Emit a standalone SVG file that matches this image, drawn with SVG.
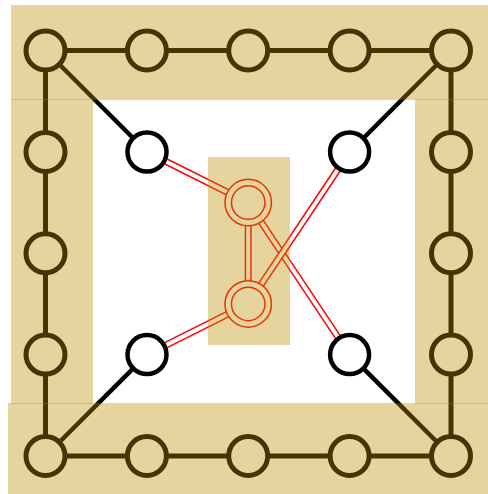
<svg xmlns="http://www.w3.org/2000/svg" width="488" height="494" viewBox="0 0 488 494">
<style>
.ring{stroke:#000;stroke-width:5;fill:none}
.diag{stroke:#000;stroke-width:4.5;fill:none}
.dbl-o{stroke:#ff0000;stroke-width:7;fill:none}
.dbl-i{stroke:#fff;stroke-width:4;fill:none}
.n{fill:#fff;stroke:#000;stroke-width:5}
.m{fill:#fff;stroke:#000;stroke-width:4.5}
.c-o{fill:#fff;stroke:#ff0000;stroke-width:8}
.c-i{fill:none;stroke:#fff;stroke-width:5}
.band{fill:#bd8d00;fill-opacity:0.376}
</style>
<rect width="488" height="494" fill="#fff"/>
<g id="connectors">
<path class="ring" d="M45.5,50.5H451V456H45.5Z"/>
<path class="diag" d="M45.5,50.5L147,152M451,50.5L349.6,152M45.5,456L147,354.6M451,456L349.6,354.6"/>
<path class="dbl-o" d="M147,152L248.2,202.6"/><path class="dbl-i" d="M147,152L248.2,202.6"/>
<path class="dbl-o" d="M147,354.6L248.2,303.9"/><path class="dbl-i" d="M147,354.6L248.2,303.9"/>
<path class="dbl-o" d="M248.2,202.6V303.9"/><path class="dbl-i" d="M248.2,202.6V303.9"/>
<path class="dbl-o" d="M349.6,354.6L248.2,202.6"/><path class="dbl-i" d="M349.6,354.6L248.2,202.6"/>
<path class="dbl-o" d="M349.6,152L248.2,303.9"/><path class="dbl-i" d="M349.6,152L248.2,303.9"/>
</g>
<g id="ring-nodes">
<g id="r1"><circle class="n" cx="45.5" cy="50.5" r="19.5"/></g>
<g id="r2"><circle class="n" cx="146.9" cy="50.5" r="19.5"/></g>
<g id="r3"><circle class="n" cx="248.2" cy="50.5" r="19.5"/></g>
<g id="r4"><circle class="n" cx="349.6" cy="50.5" r="19.5"/></g>
<g id="r5"><circle class="n" cx="451" cy="50.5" r="19.5"/></g>
<g id="r6"><circle class="n" cx="451" cy="151.9" r="19.5"/></g>
<g id="r7"><circle class="n" cx="451" cy="253.3" r="19.5"/></g>
<g id="r8"><circle class="n" cx="451" cy="354.6" r="19.5"/></g>
<g id="r9"><circle class="n" cx="451" cy="456" r="19.5"/></g>
<g id="r10"><circle class="n" cx="349.6" cy="456" r="19.5"/></g>
<g id="r11"><circle class="n" cx="248.2" cy="456" r="19.5"/></g>
<g id="r12"><circle class="n" cx="146.9" cy="456" r="19.5"/></g>
<g id="r13"><circle class="n" cx="45.5" cy="456" r="19.5"/></g>
<g id="r14"><circle class="n" cx="45.5" cy="354.6" r="19.5"/></g>
<g id="r15"><circle class="n" cx="45.5" cy="253.3" r="19.5"/></g>
<g id="r16"><circle class="n" cx="45.5" cy="151.9" r="19.5"/></g>
</g>
<g id="inner-nodes">
<g id="i1"><circle class="m" cx="147" cy="152" r="19.5"/></g>
<g id="i2"><circle class="m" cx="349.6" cy="152" r="19.5"/></g>
<g id="i3"><circle class="m" cx="147" cy="354.6" r="19.5"/></g>
<g id="i4"><circle class="m" cx="349.6" cy="354.6" r="19.5"/></g>
</g>
<g id="center-nodes">
<g id="c1"><circle class="c-o" cx="248.2" cy="202.6" r="20"/><circle class="c-i" cx="248.2" cy="202.6" r="20"/></g>
<g id="c2"><circle class="c-o" cx="248.2" cy="303.9" r="20"/><circle class="c-i" cx="248.2" cy="303.9" r="20"/></g>
</g>
<g id="bands">
<rect class="band" x="11" y="5" width="477" height="95"/>
<rect class="band" x="11" y="99" width="82" height="305"/>
<rect class="band" x="415" y="99" width="73" height="305"/>
<rect class="band" x="8" y="403" width="480" height="91"/>
<rect class="band" x="208" y="157" width="82" height="188"/>
</g>
</svg>
